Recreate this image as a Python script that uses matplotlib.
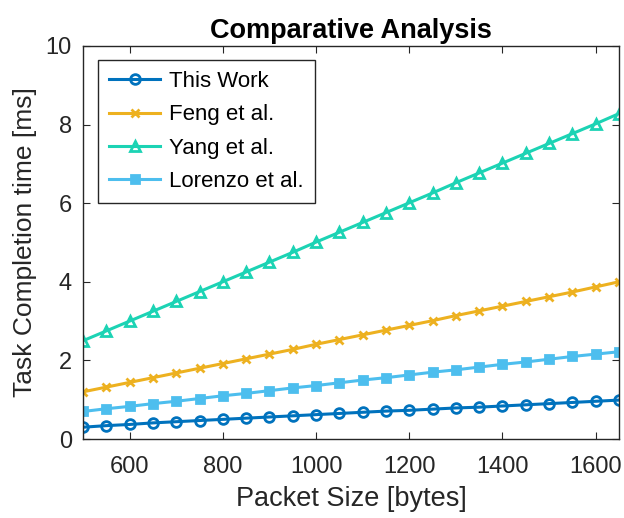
import matplotlib.pyplot as plt
import numpy as np

plt.rcParams['font.family'] = ['Liberation Sans', 'DejaVu Sans']

packet_size = list(range(500, 1651, 50))

this_work = [0.30, 0.34, 0.37, 0.41, 0.44, 0.47, 0.50, 0.53, 0.56, 0.59, 0.62, 0.65,
             0.68, 0.71, 0.73, 0.76, 0.79, 0.81, 0.84, 0.87, 0.90, 0.93, 0.96, 0.99]
feng = [1.20, 1.32, 1.44, 1.56, 1.68, 1.80, 1.92, 2.04, 2.16, 2.28, 2.41, 2.53,
        2.65, 2.77, 2.89, 3.01, 3.14, 3.26, 3.38, 3.50, 3.62, 3.74, 3.87, 4.00]
yang = [2.50, 2.75, 3.00, 3.25, 3.50, 3.75, 4.00, 4.25, 4.50, 4.75, 5.01, 5.26,
        5.51, 5.76, 6.01, 6.26, 6.52, 6.77, 7.02, 7.27, 7.52, 7.77, 8.02, 8.28]
lorenzo = [0.70, 0.77, 0.83, 0.90, 0.96, 1.03, 1.10, 1.16, 1.23, 1.30, 1.36, 1.43,
           1.50, 1.56, 1.63, 1.70, 1.76, 1.83, 1.90, 1.96, 2.03, 2.10, 2.16, 2.22]

fig = plt.figure(figsize=(6.24, 5.18), dpi=100)
ax = fig.add_axes([83/624, 1-439/518, (619-83)/624, (439-46)/518])

ax.plot(packet_size, this_work, '-o', color='#0072BD', lw=2.2, ms=7, mfc='none', mew=2, label='This Work')
ax.plot(packet_size, feng, '-x', color='#EDB120', lw=2.2, ms=6, mew=2, label='Feng et al.')
ax.plot(packet_size, yang, '-^', color='#1CD3B4', lw=2.2, ms=7, mfc='none', mew=2, label='Yang et al.')
ax.plot(packet_size, lorenzo, '-s', color='#4DBEEE', lw=2.2, ms=6, mew=2, label='Lorenzo et al.')

ax.set_xlim(500, 1650)
ax.set_ylim(0, 10)
ax.set_xticks([600, 800, 1000, 1200, 1400, 1600])
ax.set_yticks([0, 2, 4, 6, 8, 10])
ax.tick_params(direction='in', top=True, right=True, labelsize=17, colors='#262626', length=5)
ax.tick_params(axis='x', pad=12)
ax.tick_params(axis='y', pad=8)
for s in ax.spines.values():
    s.set_color('#262626')
    s.set_linewidth(1)

ax.set_xlabel('Packet Size [bytes]', fontsize=19.5, color='#262626', labelpad=6)
ax.set_ylabel('Task Completion time [ms]', fontsize=19, color='#262626', labelpad=6)
ax.set_title('Comparative Analysis', fontsize=19.5, fontweight='bold', pad=6)

leg = ax.legend(loc='upper left', fontsize=16, fancybox=False, edgecolor='#262626',
                framealpha=1, handlelength=2.3, handletextpad=0.4, borderpad=0.5,
                labelspacing=0.55, borderaxespad=0, bbox_to_anchor=(0.028, 0.964))
leg.get_frame().set_linewidth(1)

fig.savefig('out.png', dpi=100)
